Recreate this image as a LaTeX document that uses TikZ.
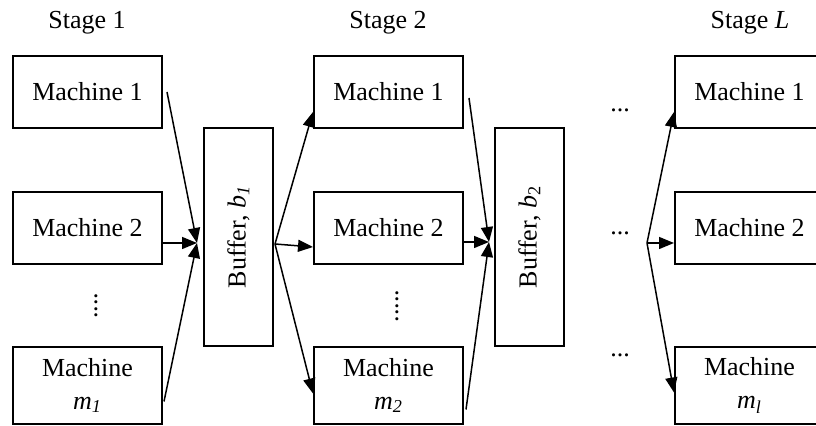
\documentclass[tikz,border=0pt]{standalone}
\usepackage{fontspec}
\setmainfont{Liberation Serif}
\usetikzlibrary{arrows.meta,positioning}
\tikzset{
  mach/.style={rectangle, draw=black, line width=1pt, minimum width=74.5pt,
    minimum height=36pt, align=center, inner sep=2pt,
    font=\fontsize{13}{16.5}\selectfont},
  buf/.style={rectangle, draw=black, line width=1pt, minimum width=34.5pt,
    minimum height=109pt, inner sep=0pt, font=\fontsize{13}{16}\selectfont},
  flow/.style={-{Triangle[length=7.5pt,width=6pt]}, line width=0.75pt},
  lbl/.style={font=\fontsize{13}{16}\selectfont, inner sep=0pt},
}
\newcommand{\idx}[2]{\textit{#1}\textsubscript{\textit{#2}}}

\begin{document}
\begin{tikzpicture}[x=0.5pt,y=-0.5pt]
    \useasboundingbox (0,0) rectangle (816,426);

    % stage headers
    \node[lbl] (st1) at (87,23) {Stage 1};
    \node[lbl] (st2) at (388,23) {Stage 2};
    \node[lbl] (stL) at (750,23) {Stage \textit{L}};

    % stage 1
    \node[mach] (a1) at (87.5,92) {Machine 1};
    \node[mach] (a2) at (87.5,228) {Machine 2};
    \node[mach, minimum height=38.5pt] (a3) at (87.5,385.5) {Machine\\ \idx{m}{1}};
    \node[lbl] (v1) at (96,306) {\rotatebox{90}{....}};

    \node[buf] (b1) at (238.5,237) {\rotatebox{90}{Buffer, \idx{b}{1}}};

    % stage 2
    \node[mach] (c1) at (388.5,92) {Machine 1};
    \node[mach] (c2) at (388.5,228) {Machine 2};
    \node[mach, minimum height=38.5pt] (c3) at (388.5,385.5) {Machine\\ \idx{m}{2}};
    \node[lbl] (v2) at (397,306) {\rotatebox{90}{.....}};

    \node[buf] (b2) at (529.5,237) {\rotatebox{90}{Buffer, \textit{b}\textsubscript{2}}};

    % stage L
    \node[lbl, anchor=base] (h1) at (620,112) {...};
    \node[lbl, anchor=base] (h2) at (620,235) {...};
    \node[lbl, anchor=base] (h3) at (620,357) {...};
    \node[mach] (d1) at (749.5,92) {Machine 1};
    \node[mach] (d2) at (749.5,228) {Machine 2};
    \node[mach, minimum height=38.5pt] (d3) at (749.5,385.5) {Machine\\ \idx{m}{l}};

    % junction points
    \coordinate (j1) at (197,243);
    \coordinate (s1) at (275,244);
    \coordinate (j2) at (489,242);
    \coordinate (sL) at (647,243);

    \draw[flow] ([xshift=2pt]a1.east) -- (j1);
    \draw[flow] (a2.east |- j1) -- (j1);
    \draw[flow] ([xshift=0.5pt,yshift=-8pt]a3.east) -- (j1);

    \draw[flow] (s1) -- ([yshift=-10pt]c1.west);
    \draw[flow] (s1) -- ([yshift=-9.5pt]c2.west);
    \draw[flow] (s1) -- ([yshift=-4pt]c3.west);

    \draw[flow] ([xshift=2.5pt,yshift=-3pt]c1.east) -- (j2);
    \draw[flow] (c2.east |- j2) -- (j2);
    \draw[flow] ([xshift=1pt,yshift=-12pt]c3.east) -- (j2);

    \draw[flow] (sL) -- ([yshift=-10pt]d1.west);
    \draw[flow] (sL) -- (d2.west |- sL);
    \draw[flow] (sL) -- ([yshift=-3.5pt]d3.west);
\end{tikzpicture}
\end{document}
